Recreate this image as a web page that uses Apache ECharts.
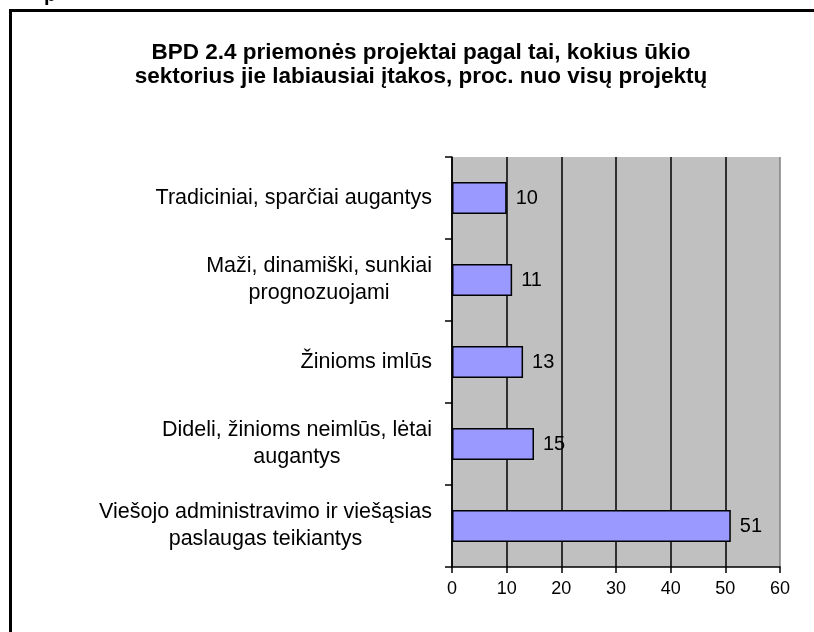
<!DOCTYPE html>
<html>
<head>
<meta charset="utf-8">
<script src="https://cdn.jsdelivr.net/npm/echarts@6/dist/echarts.min.js"></script>
<style>
  html, body { margin: 0; padding: 0; background: #fff; }
  #c { width: 814px; height: 632px; }
</style>
</head>
<body>
<div id="c"></div>
<script>
var chart = echarts.init(document.getElementById('c'));

// duomenys (iš viršaus į apačią)
var sektoriai = [
    'Tradiciniai, sparčiai augantys',
    'Maži, dinamiški, sunkiai\nprognozuojami',
    'Žinioms imlūs',
    'Dideli, žinioms neimlūs, lėtai\naugantys',
    'Viešojo administravimo ir viešąsias\npaslaugas teikiantys'
];
var procentai = [10, 11, 13, 15, 51];
var asiesMin = 0, asiesMax = 60, asiesZingsnis = 10;

var font = 'Arial, "Liberation Sans", sans-serif';

var option = {
    animation: false,
    backgroundColor: '#fff',
    title: {
        text: 'BPD 2.4 priemonės projektai pagal tai, kokius ūkio\nsektorius jie labiausiai įtakos, proc. nuo visų projektų',
        left: 416,
        textAlign: 'center',
        top: 36,
        textStyle: {
            fontFamily: font,
            fontSize: 22.5,
            fontWeight: 'bold',
            color: '#000',
            lineHeight: 24
        }
    },
    //rėmelis
    graphic: [
        {
            type: 'rect',
            shape: { x: 10.5, y: 10.5, width: 900, height: 700 },
            style: { fill: 'none', stroke: '#000', lineWidth: 3 }
        },
        {
            type: 'text',
            left: 44, top: -15,
            style: { text: 'p', font: 'bold 20px ' + font, fill: '#000' }
        }
    ],
    grid: {
        left: 452,
        right: 34,
        top: 157,
        bottom: 65,
        show: true,
        backgroundColor: '#C0C0C0',
        borderWidth: 0
    },
    xAxis: {
        type: 'value',
        min: asiesMin,
        max: asiesMax,
        interval: asiesZingsnis,
        axisLine: { show: true, lineStyle: { color: '#000', width: 1.5 } },
        axisTick: { show: true, length: 6, lineStyle: { color: '#000', width: 1.5 } },
        axisLabel: { color: '#000', fontSize: 18, fontFamily: font, margin: 13 },
        splitLine: {
            show: true,
            lineStyle: {
                color: ['#000', '#000', '#000', '#000', '#000', '#000', '#808080'],
                width: 1.5
            }
        }
    },
    yAxis: {
        type: 'category',
        inverse: true,
        data: sektoriai,
        axisLine: { show: true, lineStyle: { color: '#000', width: 1.5 } },
        axisTick: { show: true, length: 7, lineStyle: { color: '#000', width: 1.5 } },
        axisLabel: {
            margin: 20,
            align: 'right',
            formatter: function (v) {
                return v.split('\n').map(function (s) { return '{c|' + s + '}'; }).join('\n');
            },
            rich: {
                c: {
                    color: '#000',
                    fontSize: 21.5,
                    fontFamily: font,
                    lineHeight: 27,
                    align: 'center'
                }
            }
        }
    },
    series: [{
        type: 'bar',
        data: procentai,
        barWidth: 32,
        itemStyle: { color: '#9999FF', borderColor: '#000', borderWidth: 1.5 },
        label: {
            show: true,
            position: 'right',
            distance: 9,
            color: '#000',
            fontSize: 20,
            fontFamily: font
        }
    }]
};
chart.setOption(option);
</script>
</body>
</html>
